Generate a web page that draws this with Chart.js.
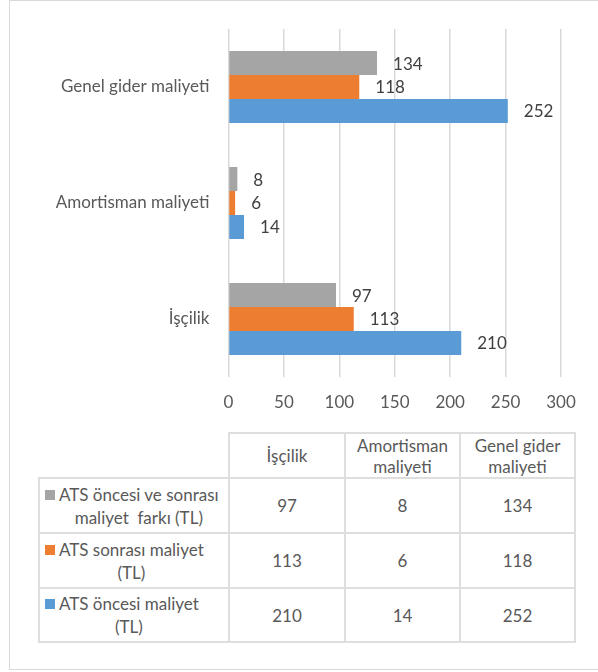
<!DOCTYPE html>
<html>
<head>
<meta charset="utf-8">
<script src="https://cdn.jsdelivr.net/npm/chart.js@4"></script>
<style>
  body { margin: 0; background: #fff; width: 598px; height: 672px; overflow: hidden; position: relative; font-family: Lato, "Open Sans", sans-serif; color: #595959; }
  #frame { position: absolute; left: 9px; top: 0; width: 620px; height: 670px; border: 1px solid #d9d9d9; box-sizing: border-box; }
  #chartBox { position: absolute; left: 0; top: 0; width: 598px; height: 425px; }
  #dataTable { position: absolute; left: 38px; top: 432px; border-collapse: collapse; font-size: 17px; table-layout: fixed; }
  #dataTable td, #dataTable th { border: 2px solid #dedede; text-align: center; font-weight: normal; padding: 0; line-height: 23px; }
  #dataTable th { line-height: 21px; }
  #dataTable th.blank { border-top: none; border-left: none; }
  .legendCell { display: flex; align-items: flex-start; padding-left: 5px; }
  .mark { width: 10px; height: 10px; margin: 7px 4px 0 0; flex: none; }
  .legendText { text-align: center; white-space: pre; }
</style>
</head>
<body>
<div id="frame"></div>
<div id="chartBox"><canvas id="bar-chart"></canvas></div>
<table id="dataTable"></table>
<script>
/**
 * maliyet verileri
 */
var kategoriler = ["İşçilik", "Amortisman maliyeti", "Genel gider maliyeti"];
var tabloBasliklari = ["İşçilik", "Amortisman\nmaliyeti", "Genel gider\nmaliyeti"];
var seriAdlari = ["ATS öncesi ve sonrası\nmaliyet  farkı (TL)", "ATS sonrası maliyet\n(TL)", "ATS öncesi maliyet\n(TL)"];
var farkTL = [97, 8, 134];
var sonrasiTL = [113, 6, 118];
var oncesiTL = [210, 14, 252];
var eksenEtiketleri = [0, 50, 100, 150, 200, 250, 300];
var renkler = ["#a5a5a5", "#ed7d31", "#5b9bd5"];

var seriler = [farkTL, sonrasiTL, oncesiTL];

// bar value labels, drawn to the right of each bar
var degerEtiketi = {
    id: 'degerEtiketi',
    afterDatasetsDraw: function(chart) {
        var ctx = chart.ctx;
        ctx.save();
        ctx.font = '17px Lato';
        ctx.fillStyle = '#404040';
        ctx.textAlign = 'left';
        ctx.textBaseline = 'middle';
        chart.data.datasets.forEach(function(ds, i) {
            chart.getDatasetMeta(i).data.forEach(function(bar, j) {
                ctx.fillText(ds.data[j], bar.x + 16, bar.y + 1);
            });
        });
        ctx.restore();
    }
};

new Chart(document.getElementById("bar-chart"), {
    type: 'bar',
    data: {
        labels: kategoriler,
        datasets: seriler.map(function(d, i) {
            return {
                label: seriAdlari[i].replace("\n", " "),
                data: d,
                backgroundColor: renkler[i],
                categoryPercentage: 0.62,
                barPercentage: 1
            };
        })
    },
    options: {
        indexAxis: 'y',
        responsive: true,
        maintainAspectRatio: false,
        animation: false,
        layout: { padding: { top: 29, right: 37, bottom: 0, left: 0 } },
        plugins: { legend: { display: false }, tooltip: { enabled: false } },
        scales: {
            x: {
                min: 0,
                max: 300,
                afterBuildTicks: function(s) { s.ticks = eksenEtiketleri.map(function(v) { return { value: v }; }); },
                afterFit: function(s) { s.height = 48; },
                grid: { color: '#d9d9d9', lineWidth: 1.5, drawTicks: false },
                border: { display: false },
                ticks: { color: '#595959', font: { family: 'Lato', size: 17 }, padding: 15 }
            },
            y: {
                reverse: true,
                afterFit: function(s) { s.width = 228.5; },
                grid: { display: false },
                border: { display: false },
                ticks: { color: '#595959', font: { family: 'Lato', size: 17 }, padding: 11 }
            }
        }
    },
    plugins: [degerEtiketi]
});

// data table under the chart
var tablo = document.getElementById("dataTable");
var sutunlar = [189, 114, 113, 113];
var satirlar = [45, 55, 55, 54];
var html = '<tr style="height:' + satirlar[0] + 'px"><th class="blank" style="width:' + sutunlar[0] + 'px"></th>';
tabloBasliklari.forEach(function(b, i) {
    html += '<th style="width:' + sutunlar[i + 1] + 'px;white-space:pre">' + b + '</th>';
});
html += '</tr>';
seriler.forEach(function(d, i) {
    html += '<tr style="height:' + satirlar[i + 1] + 'px"><td><div class="legendCell"><span class="mark" style="background:' + renkler[i] + '"></span><span class="legendText">' + seriAdlari[i] + '</span></div></td>';
    d.forEach(function(v) { html += '<td>' + v + '</td>'; });
    html += '</tr>';
});
tablo.innerHTML = html;
</script>
</body>
</html>
